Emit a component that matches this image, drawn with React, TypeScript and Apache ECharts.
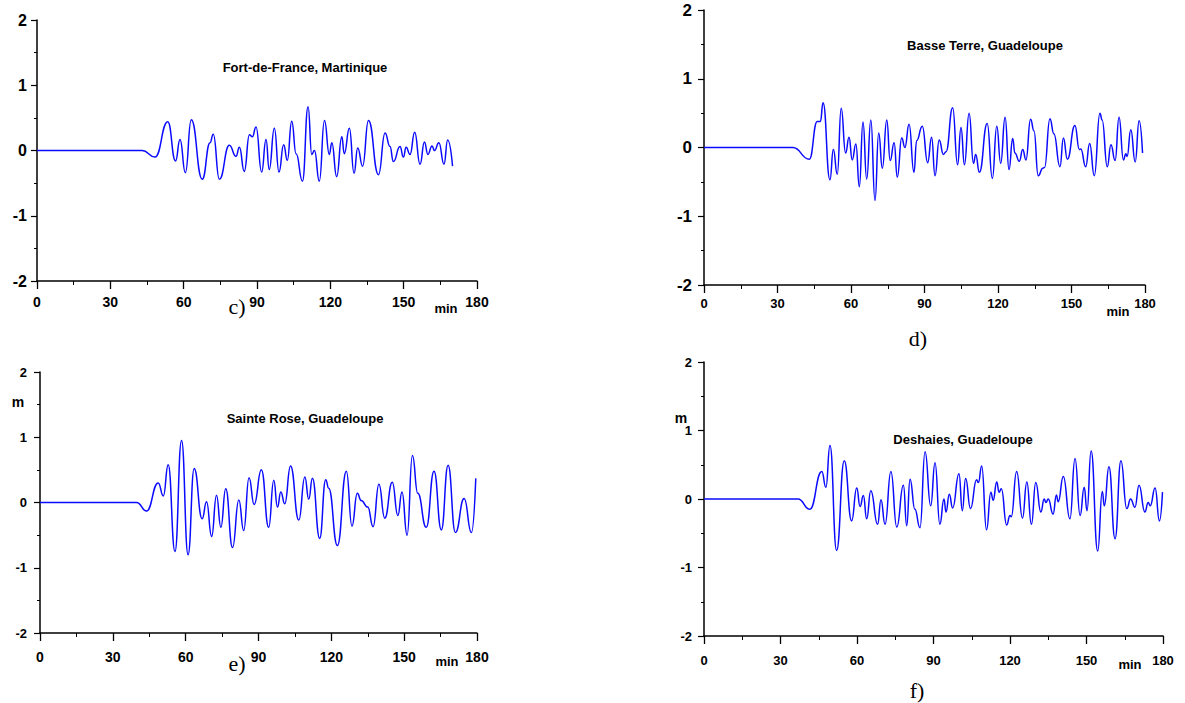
import React, { useEffect, useRef } from 'react';
import * as echarts from 'echarts';

// ---- Data (minutes, metres) ----
const xTicks = [0, 30, 60, 90, 120, 150, 180];
const yTicks = [-2, -1, 0, 1, 2];

const titles = ['Fort-de-France, Martinique', 'Basse Terre, Guadeloupe', 'Sainte Rose, Guadeloupe', 'Deshaies, Guadeloupe'];
const captions = ['c)', 'd)', 'e)', 'f)'];

const tC = [0, 43, 48.3, 53.5, 56.7, 58.5, 60.7, 63.1, 67.6, 70.8, 72.1, 74.6, 78.7, 81.4, 82.8, 84.8, 86.9, 88.1, 89.6, 91.9, 93.7, 95, 97.1, 99, 100.9, 102.4, 104.2, 106, 108.6, 110.9, 112.4, 113.5, 115.5, 117.6, 119.6, 120.6, 122.6, 124.7, 125.7, 127.8, 129.7, 131.2, 133.2, 135.6, 139.7, 142.4, 144.4, 145.8, 148.5, 149.9, 151, 152.6, 154.5, 156.7, 158.5, 159.9, 161.6, 162.6, 164.4, 166.5, 168, 170];
const vC = [0, 0, -0.1, 0.44, -0.16, 0.17, -0.34, 0.47, -0.44, 0.12, 0.25, -0.44, 0.08, -0.09, 0.05, -0.32, 0.24, 0.21, 0.36, -0.33, 0.17, -0.29, 0.34, -0.33, 0.09, -0.15, 0.45, -0.05, -0.47, 0.67, -0.06, 0, -0.47, 0.46, -0.06, 0.12, -0.4, 0.21, -0.05, 0.34, -0.35, 0.04, -0.24, 0.46, -0.37, 0.27, 0.06, -0.17, 0.06, -0.1, 0.05, -0.06, 0.28, -0.21, 0.13, -0.06, 0.07, 0, 0.12, -0.21, 0.16, -0.24];

const tD = [0, 36.3, 43, 46.2, 47.5, 48.6, 51.4, 52.8, 54.4, 56, 57.8, 59.2, 60.5, 62, 63.4, 64.9, 66.4, 68.1, 69.8, 71.3, 72.8, 74.6, 76, 77.6, 78.9, 80.7, 82, 83.7, 85.7, 86.8, 89.1, 91.3, 92.9, 94.3, 96, 97.7, 98.8, 101.5, 103.5, 104.9, 106.3, 108.2, 110, 110.9, 112.4, 115.6, 117.7, 119.5, 121.1, 122.9, 124.5, 126, 126.9, 128.7, 130.1, 131.4, 133.3, 134.7, 136.4, 138.3, 139, 141.2, 142.8, 145.3, 146.7, 148.3, 151.4, 153.2, 153.8, 155.8, 157.4, 159.3, 161.6, 162.5, 164.6, 166.1, 167.8, 169.4, 171.2, 172.2, 172.7, 174.2, 176, 177.6, 179];
const vD = [0, 0, -0.17, 0.38, 0.38, 0.65, -0.47, -0.03, -0.39, 0.57, -0.08, 0.15, -0.18, 0.05, -0.57, 0.37, -0.46, 0.4, -0.77, 0.21, -0.3, 0.4, -0.19, 0.07, -0.43, 0.14, 0, 0.34, -0.36, 0.1, 0.31, -0.22, 0.15, -0.41, 0.11, -0.1, -0.06, 0.58, -0.25, 0.29, -0.25, 0.5, -0.23, -0.1, -0.36, 0.35, -0.45, 0.31, -0.23, 0.44, -0.32, 0.13, -0.08, -0.2, -0.03, -0.18, 0.41, 0.24, -0.41, -0.3, -0.29, 0.42, 0.2, -0.28, 0.14, -0.17, 0.32, -0.03, -0.02, -0.28, 0.06, -0.41, 0.5, 0.4, -0.28, 0.04, -0.19, 0.44, -0.18, -0.09, -0.13, 0.26, -0.21, 0.39, -0.08];

const tE = [0, 39.8, 43.9, 48.7, 50.8, 52.8, 55.6, 58.3, 61, 63.5, 66.8, 68.6, 70.7, 72.7, 74.5, 76.5, 79.3, 81.9, 83.9, 86.1, 88.2, 91.2, 94.2, 96.3, 97.8, 99.2, 100.8, 103.2, 106.6, 109.1, 110.7, 112.2, 115.2, 117.7, 118.9, 122.5, 126.2, 128.5, 130.7, 132.3, 135, 137.2, 139.6, 142, 145.1, 147.4, 149.1, 151.2, 153.4, 155.6, 159.1, 162.3, 165.3, 168.1, 171.1, 174.7, 177.7, 179.5];
const vE = [0, 0, -0.13, 0.3, 0.1, 0.58, -0.75, 0.95, -0.8, 0.52, -0.25, 0.01, -0.52, 0.11, -0.38, 0.21, -0.69, 0.04, -0.43, 0.38, -0.03, 0.5, -0.38, 0.34, -0.07, 0.16, -0.02, 0.56, -0.27, 0.39, 0.05, 0.37, -0.55, 0.35, 0.22, -0.66, 0.48, -0.36, 0.14, 0.03, -0.07, -0.37, 0.28, -0.24, 0.31, -0.2, 0.16, -0.5, 0.72, 0.14, -0.38, 0.48, -0.42, 0.57, -0.46, 0.06, -0.46, 0.37];

const tF = [0, 36.9, 41.5, 46.2, 47.8, 49.4, 52, 55, 57.9, 59.9, 61.2, 62.5, 63.8, 65.4, 68.1, 69.4, 71, 73.3, 75.6, 78.2, 79.5, 80.8, 82.7, 84.7, 86.7, 88.9, 90.6, 92.5, 94.1, 94.9, 96.2, 97.5, 100, 101.3, 102.6, 104.5, 106.9, 107.6, 108.9, 110.8, 112.5, 113.4, 114.8, 115.7, 116.6, 118.7, 120, 120.5, 122.6, 124.9, 126.6, 128.4, 130.1, 132.1, 133.4, 134.1, 135, 136.9, 138.2, 138.9, 140.9, 143.5, 145.5, 147.5, 149.1, 150.2, 151.8, 154.4, 156.2, 157, 158.8, 161.2, 163.5, 165.8, 167.3, 169, 170.6, 172.9, 174.2, 175, 176.9, 178.6, 179.8];
const vF = [0, 0, -0.15, 0.4, 0.17, 0.78, -0.75, 0.56, -0.32, 0.16, -0.11, 0.05, -0.29, 0.12, -0.37, -0.01, -0.37, 0.4, -0.41, 0.2, -0.39, 0.29, -0.15, -0.42, 0.69, -0.1, 0.53, -0.37, 0, -0.19, 0.07, -0.13, 0.37, -0.17, 0.3, -0.14, 0.28, 0.24, 0.48, -0.45, 0.1, -0.02, 0.25, 0.1, 0.15, -0.38, -0.24, -0.26, 0.4, -0.28, 0.25, -0.37, 0.24, -0.19, 0, -0.05, 0, -0.22, 0.06, -0.04, 0.33, -0.29, 0.59, -0.24, 0.17, -0.17, 0.7, -0.76, 0.11, -0.1, 0.47, -0.58, 0.56, -0.14, 0, -0.12, 0.2, -0.19, -0.05, -0.1, 0.16, -0.32, 0.1];

const zip = (t: number[], v: number[]) => t.map((x, i) => [x, v[i]]);

const SANS = '"Liberation Sans", Arial, sans-serif';
const SERIF = '"Liberation Serif", "Times New Roman", serif';

export default function App() {
  const ref = useRef<HTMLDivElement>(null);

  useEffect(() => {
    if (!ref.current) return;
    const chart = echarts.init(ref.current, null, { renderer: 'svg' });

    const panels = [
      { grid: { left: 37, top: 20, width: 440, height: 261 }, yFont: 16, yMargin: 10, xFont: 14, xMargin: 14, data: zip(tC, vC),
        title: [305, 67], cap: [237, 306], min: [446, 308], m: null },
      { grid: { left: 704, top: 10, width: 441, height: 275 }, yFont: 17, yMargin: 12, xFont: 13, xMargin: 12, data: zip(tD, vD),
        title: [985, 45], cap: [918, 338], min: [1118, 311], m: null },
      { grid: { left: 40, top: 372, width: 437, height: 261 }, yFont: 13, yMargin: 13, xFont: 14, xMargin: 17, data: zip(tE, vE),
        title: [305, 418], cap: [237, 663], min: [447, 661], m: [18, 402] },
      { grid: { left: 704, top: 362, width: 459, height: 274 }, yFont: 13, yMargin: 12, xFont: 13, xMargin: 18, data: zip(tF, vF),
        title: [963, 439], cap: [917, 690], min: [1130, 664], m: [681, 418] },
    ];

    const graphic: any[] = [];
    panels.forEach((p, i) => {
      graphic.push({ type: 'text', x: p.title[0], y: p.title[1], style: { text: titles[i], font: `bold 13px ${SANS}`, fill: '#000', align: 'center', verticalAlign: 'middle' } });
      graphic.push({ type: 'text', x: p.cap[0], y: p.cap[1], style: { text: captions[i], font: `22px ${SERIF}`, fill: '#000', align: 'center', verticalAlign: 'middle' } });
      graphic.push({ type: 'text', x: p.min[0], y: p.min[1], style: { text: 'min', font: `bold 13px ${SANS}`, fill: '#000', align: 'center', verticalAlign: 'middle' } });
      if (p.m) graphic.push({ type: 'text', x: p.m[0], y: p.m[1], style: { text: 'm', font: `bold 14px ${SANS}`, fill: '#000', align: 'center', verticalAlign: 'middle' } });
    });

    chart.setOption({
      animation: false,
      backgroundColor: '#fff',
      grid: panels.map((p) => ({ ...p.grid, containLabel: false })),
      xAxis: panels.map((p, i) => ({
        type: 'value', gridIndex: i, min: xTicks[0], max: xTicks[xTicks.length - 1], interval: 30,
        axisLine: { show: true, onZero: false, lineStyle: { color: '#000', width: 1.5 } },
        axisTick: { show: true, length: 8, lineStyle: { color: '#000', width: 1.3 } },
        minorTick: { show: true, splitNumber: 2, length: 4, lineStyle: { color: '#000', width: 1 } },
        splitLine: { show: false },
        axisLabel: { fontSize: p.xFont, fontWeight: 'bold', color: '#000', fontFamily: SANS, margin: p.xMargin },
      })),
      yAxis: panels.map((p, i) => ({
        type: 'value', gridIndex: i, min: yTicks[0], max: yTicks[yTicks.length - 1], interval: 1,
        axisLine: { show: true, onZero: false, lineStyle: { color: '#000', width: 1.5 } },
        axisTick: { show: true, length: 6, lineStyle: { color: '#000', width: 1.2 } },
        minorTick: { show: true, splitNumber: 2, length: 3, lineStyle: { color: '#000', width: 1 } },
        splitLine: { show: false },
        axisLabel: { fontSize: p.yFont, fontWeight: 'bold', color: '#000', fontFamily: SANS, margin: p.yMargin },
      })),
      series: panels.map((p, i) => ({
        type: 'line', xAxisIndex: i, yAxisIndex: i, data: p.data, showSymbol: false, symbol: 'none',
        smooth: 0.5, smoothMonotone: 'x',
        lineStyle: { color: '#0a0aff', width: 1.5 },
      })),
      graphic,
    });

    return () => chart.dispose();
  }, []);

  return <div ref={ref} style={{ position: 'absolute', left: 0, top: 0, width: 1185, height: 703 }} />;
}
